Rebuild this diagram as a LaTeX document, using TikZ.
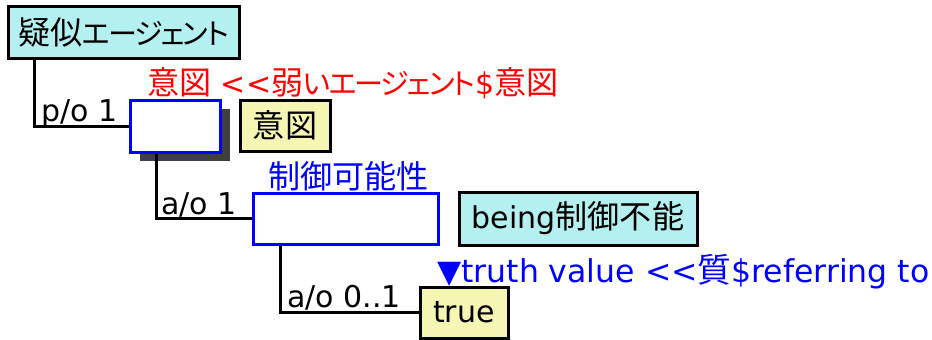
\documentclass[tikz,border=0pt]{standalone}
\usepackage{fontspec}
\setmainfont{DejaVu Sans}
\newfontfamily\jp{Noto Sans CJK JP}[RawFeature=+palt, Scale=1.07]
\newfontfamily\jpk{Noto Sans CJK JP}[RawFeature=+palt, Scale=0.97, LetterSpace=-7]
\usetikzlibrary{shadows}
\definecolor{cyanfill}{RGB}{180,240,240}
\definecolor{yellowfill}{RGB}{245,245,180}
\definecolor{shadowgray}{RGB}{64,64,64}
\definecolor{myblue}{RGB}{0,0,255}
\definecolor{myred}{RGB}{255,0,0}
\newcommand{\ltlt}{<\kern0pt<}
\tikzset{
  every node/.style={font=\fontsize{30}{34}\selectfont},
  cyanbox/.style={draw=black, line width=3pt, fill=cyanfill, inner sep=0pt},
  yellowbox/.style={draw=black, line width=3pt, fill=yellowfill, inner sep=0pt},
  classbox/.style={draw=myblue, line width=3pt, fill=white, inner sep=0pt},
  shadowed/.style={drop shadow={shadow xshift=10pt, shadow yshift=-9pt, fill=shadowgray, opacity=1}},
  link/.style={draw=black, line width=3pt},
  lbl/.style={anchor=base west, inner sep=0pt},
}
\begin{document}
\begin{tikzpicture}[x=1pt,y=-1pt]
\useasboundingbox (0,0) rectangle (932,340);
\node[cyanbox, minimum width=231pt, minimum height=52pt] (agent) at (123.5,32) {{\jp 疑似}{\jpk エージェント}};
\node[classbox, shadowed, minimum width=90pt, minimum height=52pt] (box1) at (175,126) {};
\node[yellowbox, minimum width=90pt, minimum height=51pt] (y1) at (285,125.5) {\jp 意図};
\node[classbox, minimum width=185pt, minimum height=51pt] (box2) at (345.5,218.5) {};
\node[cyanbox, minimum width=238pt, minimum height=53pt] (c2) at (578,218.5) {being{\jp 制御不能}};
\node[yellowbox, minimum width=88pt, minimum height=51pt] (tr) at (464,312.5) {true};

\draw[link] ([xshift=28pt]agent.south west) |- (box1.west);
\draw[link] ([xshift=28pt]box1.south west) |- (box2.west);
\draw[link] ([xshift=29pt]box2.south west) |- (tr.west);

\node[lbl] (l1) at (41,121) {p/o 1};
\node[lbl] (l2) at (161,214) {a/o 1};
\node[lbl] (l3) at (287,307) {a/o 0..1};

\node[lbl, text=myred] (t1) at (147,94) {{\jp 意図} \ltlt{\jp 弱}{\jpk いエージェント}\${\jp 意図}};
\node[lbl, text=myblue] (t2) at (268,188) {\jp 制御可能性};
\node[lbl, text=myblue, font=\fontsize{31.5}{34}\selectfont] (t3) at (437,282) {▼truth value \ltlt{\jp 質}\$referring to};
\end{tikzpicture}
\end{document}
